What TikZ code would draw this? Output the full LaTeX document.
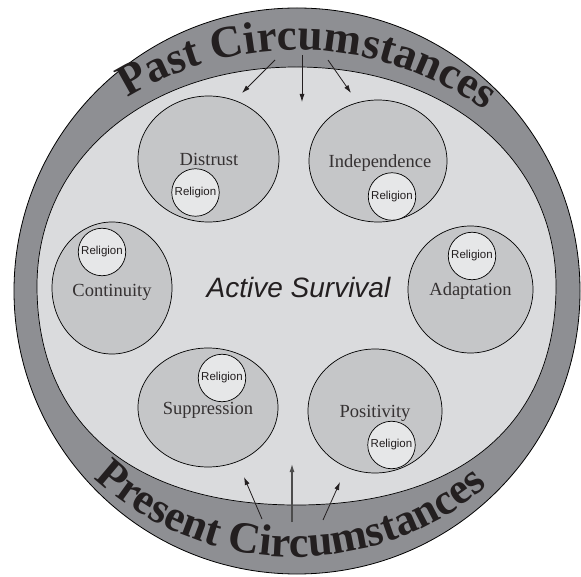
\documentclass[tikz,border=0pt]{standalone}
\usepackage{fontspec}
\setmainfont{Liberation Serif}
\newfontfamily\sansf{Liberation Sans}
\usetikzlibrary{shapes.geometric,arrows.meta,decorations.text}
\definecolor{ringgray}{HTML}{8E8F93}
\definecolor{innergray}{HTML}{DADBDD}
\definecolor{circgray}{HTML}{C5C6C8}
\definecolor{relgray}{HTML}{E6E7E8}
\definecolor{textdark}{HTML}{231F20}
\newcommand\titlestyleA{\bfseries\fontsize{45}{50}\selectfont\color{textdark}}
\newcommand\titlestyleB{\bfseries\fontsize{44}{50}\selectfont\color{textdark}}
\tikzset{
  bigcirc/.style={ellipse, draw=black, line width=0.7pt, fill=circgray, inner sep=0pt},
  relcirc/.style={circle, draw=black, line width=0.7pt, fill=relgray, inner sep=0pt, minimum size=47.5pt, font=\sansf\fontsize{11.5}{12}\selectfont, text=textdark},
  lbl/.style={anchor=base, font=\fontsize{18.5}{20}\selectfont, text=textdark!92!white, inner sep=0pt},
  arr/.style={line width=0.8pt, draw=textdark, -{Latex[length=8pt,width=5pt]}},
}
\begin{document}
\begin{tikzpicture}[x=1pt,y=1pt]
\useasboundingbox (0,0) rectangle (581,576);
% outer ring
\node[ellipse, draw=black, line width=0.8pt, fill=ringgray, minimum width=566pt, minimum height=566pt, inner sep=0pt] (outer) at (297,285) {};
% inner area
\draw[line width=0.7pt, fill=innergray] (556,290) .. controls (556,417) and (447,509) .. (296.5,509)
  .. controls (146,509) and (37,417) .. (37,290)
  .. controls (37,152) and (133,71) .. (296.5,71)
  .. controls (460,71) and (556,152) .. cycle;
% big circles
\node[bigcirc, minimum width=141pt, minimum height=126pt] (dis) at (208.5,417) {};
\node[bigcirc, minimum width=138pt, minimum height=122pt] (ind) at (378,415) {};
\node[bigcirc, minimum width=120pt, minimum height=132pt] (con) at (112,288) {};
\node[bigcirc, minimum width=125pt, minimum height=127pt] (ada) at (470.5,286.5) {};
\node[bigcirc, minimum width=140pt, minimum height=119pt] (sup) at (208,168.5) {};
\node[bigcirc, minimum width=134pt, minimum height=124pt] (pos) at (375,165) {};
% religion circles
\node[relcirc] (rdis) at (195.5,383.5) {Religion};
\node[relcirc] (rind) at (392,379.5) {Religion};
\node[relcirc] (rcon) at (102,324) {Religion};
\node[relcirc] (rada) at (472,320) {Religion};
\node[relcirc] (rsup) at (222,198) {Religion};
\node[relcirc] (rpos) at (391.5,131) {Religion};
% labels
\node[lbl] (tdis) at (209,410) {Distrust};
\node[lbl] (tind) at (380,408) {Independence};
\node[lbl] (tcon) at (112,279) {Continuity};
\node[lbl] (tada) at (470.5,280) {Adaptation};
\node[lbl] (tsup) at (208,161) {Suppression};
\node[lbl] (tpos) at (375,158) {Positivity};
\node[anchor=base, inner sep=0pt, font=\sansf\itshape\fontsize{28}{30}\selectfont, text=textdark] (act) at (298.5,278) {Active Survival};
% titles on arcs
\path[decorate, decoration={text along path, text align=center, text={|\titlestyleA|Past Circumstances}}]
  (297,205) ++(122.4:321) arc[start angle=122.4, end angle=53.5, radius=321];
\path[decorate, decoration={text along path, text align=center, text={|\titlestyleB|Present Circumstances}}]
  (295,315) ++(227.7:296) arc[start angle=227.7, end angle=310.1, radius=296];
% arrows
\coordinate (ta1) at (275,516); \coordinate (tb1) at (242,483);
\coordinate (ta2) at (302,521); \coordinate (tb2) at (302,474);
\coordinate (ta3) at (328,516); \coordinate (tb3) at (351,483);
\coordinate (ba1) at (262,57); \coordinate (bb1) at (244,99);
\coordinate (ba2) at (292,54); \coordinate (bb2) at (292,112);
\coordinate (ba3) at (323,56); \coordinate (bb3) at (340,94);
\draw[arr] (ta1) -- (tb1);
\draw[arr] (ta2) -- (tb2);
\draw[arr] (ta3) -- (tb3);
\draw[arr] (ba1) -- (bb1);
\draw[arr, draw=black!70, line width=1.2pt] (ba2) -- (bb2);
\draw[arr] (ba3) -- (bb3);
\end{tikzpicture}
\end{document}
